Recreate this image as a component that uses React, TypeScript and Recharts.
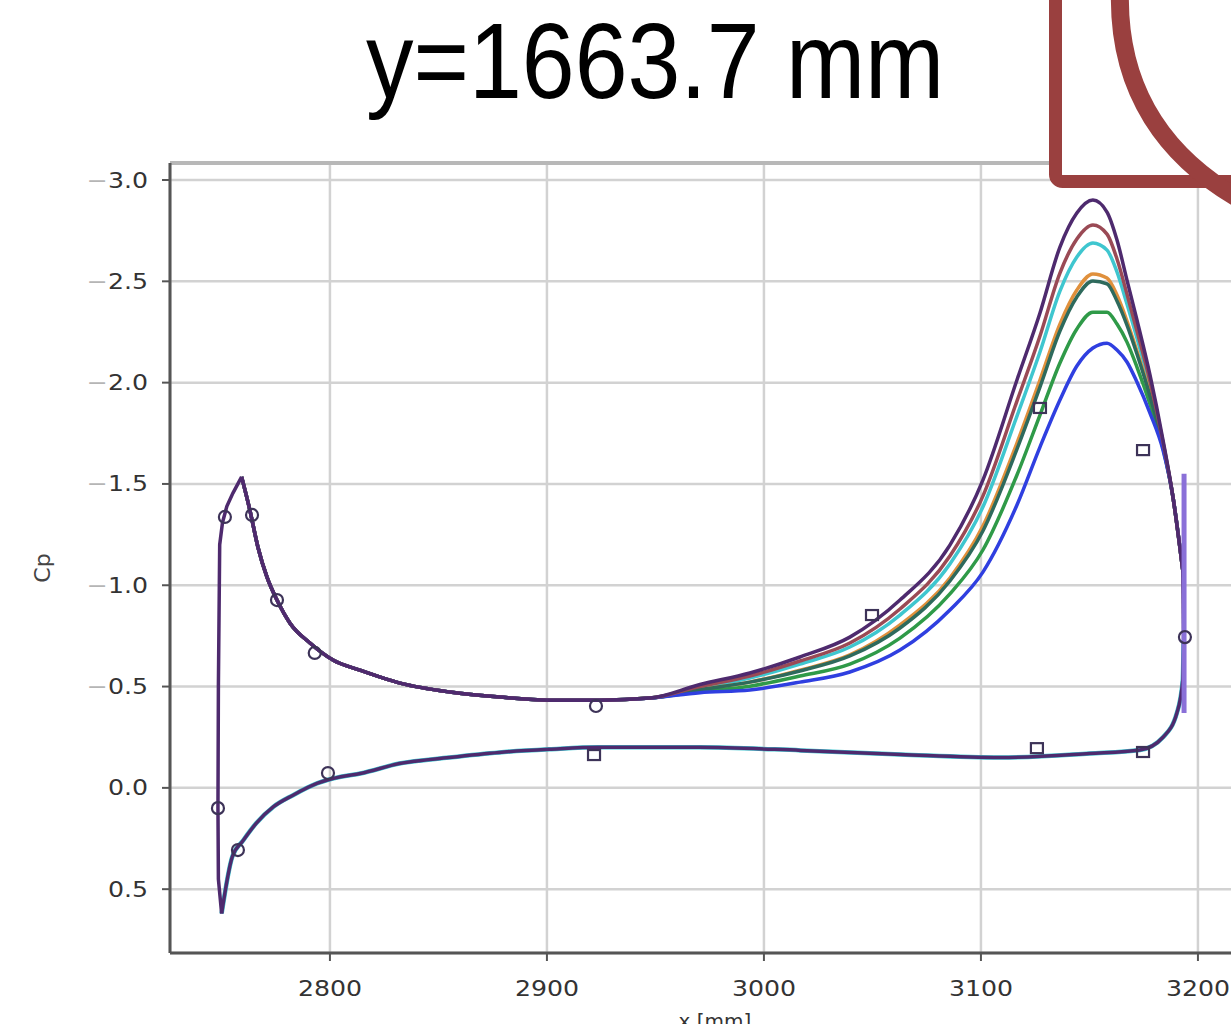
import React from 'react';
import {
  ComposedChart,
  Line,
  Scatter,
  XAxis,
  YAxis,
  CartesianGrid,
  ReferenceLine,
} from 'recharts';

// leading-edge nose: stagnation point up to the first suction peak (shared)
const noseX = [2750.1, 2748.6, 2748.4, 2748.6, 2749.2, 2750.5, 2752.5, 2755.3, 2759.3];
const noseCp = [0.62, 0.45, 0.1, -0.5, -1.2, -1.31, -1.39, -1.455, -1.535];

// suction side from the LE peak to mid chord (shared)
const upperFwdX = [
  2759.3, 2763.1, 2766.8, 2771.0, 2775.6, 2781.6, 2790.8, 2801.4, 2813.8, 2832.3,
  2855.3, 2878.3, 2901.4, 2924.4, 2947.5,
];
const upperFwdCp = [
  -1.535, -1.371, -1.189, -1.04, -0.927, -0.813, -0.715, -0.631, -0.581, -0.517,
  -0.473, -0.448, -0.433, -0.433, -0.443,
];

// aft suction side, where the runs split
const aftX = [
  2970.5, 2993.5, 3016.6, 3039.6, 3062.7, 3085.7, 3100.9, 3116.6, 3127.2, 3136.4,
  3144.2, 3151.6, 3158.1, 3162.7, 3167.3, 3171.9, 3177.9, 3183.9, 3188.5, 3193.0,
];
const purpleCp = [-0.51, -0.567, -0.646, -0.744, -0.927, -1.198, -1.519, -2.013, -2.344, -2.669, -2.837, -2.901, -2.842, -2.704, -2.506, -2.309, -2.038, -1.717, -1.435, -1.075];
const brownCp = [-0.5, -0.552, -0.626, -0.715, -0.883, -1.144, -1.44, -1.909, -2.23, -2.541, -2.709, -2.778, -2.733, -2.61, -2.437, -2.255, -2.008, -1.707, -1.435, -1.075];
const cyanCp = [-0.495, -0.542, -0.611, -0.695, -0.853, -1.105, -1.386, -1.835, -2.151, -2.452, -2.62, -2.689, -2.654, -2.546, -2.388, -2.22, -1.983, -1.702, -1.435, -1.075];
const orangeCp = [-0.485, -0.522, -0.581, -0.656, -0.804, -1.036, -1.292, -1.702, -2.013, -2.289, -2.457, -2.536, -2.516, -2.432, -2.304, -2.156, -1.944, -1.692, -1.435, -1.075];
const tealCp = [-0.485, -0.522, -0.577, -0.651, -0.789, -1.021, -1.268, -1.672, -1.978, -2.255, -2.423, -2.502, -2.487, -2.403, -2.284, -2.141, -1.934, -1.687, -1.435, -1.075];
const greenCp = [-0.475, -0.502, -0.552, -0.611, -0.739, -0.957, -1.174, -1.544, -1.84, -2.097, -2.265, -2.348, -2.348, -2.289, -2.2, -2.077, -1.894, -1.677, -1.435, -1.075];
const blueCp = [-0.47, -0.483, -0.522, -0.572, -0.68, -0.878, -1.065, -1.396, -1.682, -1.914, -2.082, -2.171, -2.195, -2.161, -2.102, -2.003, -1.85, -1.667, -1.435, -1.075];

// pressure side, LE -> TE (shared)
const lowerX = [
  2750.1, 2755.0, 2760.0, 2766.0, 2774.0, 2783.0, 2794.0, 2805.0, 2814.0, 2832.0, 2855.0,
  2878.0, 2901.0, 2924.0, 2970.0, 3017.0, 3063.0, 3109.0, 3150.0, 3173.3, 3183.9, 3190.3, 3193.0, 3193.4,
];
const lowerCp = [
  0.62, 0.34, 0.26, 0.175, 0.093, 0.036, -0.022, -0.055, -0.071, -0.12, -0.15,
  -0.175, -0.19, -0.2, -0.2, -0.185, -0.165, -0.15, -0.17, -0.187, -0.25, -0.37, -0.53, -0.73,
];

// trailing edge closing segment and bar
const teJoinX = [3193.0, 3193.4];
const teJoinCp = [-1.075, -0.73];
const teBarX = [3193.6, 3193.6];
const teBarCp = [-1.55, -0.37];

// experiment
const expCircleX = [2748.4, 2757.6, 2751.6, 2764.1, 2775.6, 2793.0, 2799.1, 2922.6, 3194.0];
const expCircleCp = [0.1, 0.307, -1.337, -1.347, -0.927, -0.666, -0.073, -0.404, -0.744];
const expSquareX = [2921.7, 3049.8, 3127.2, 3174.7, 3174.7, 3125.8];
const expSquareCp = [-0.162, -0.853, -1.875, -1.667, -0.177, -0.196];

const xTicks = [2800, 2900, 3000, 3100, 3200];
const yTicks = [-3.0, -2.5, -2.0, -1.5, -1.0, -0.5, 0.0, 0.5];

const toRows = (xs: number[], ys: number[]) => xs.map((x, i) => ({ x, cp: ys[i] }));
const upper = (aft: number[]) => [...toRows(upperFwdX, upperFwdCp), ...toRows(aftX, aft)];

const series = [
  { key: 'cyan', color: '#3fc6cf', cp: cyanCp },
  { key: 'orange', color: '#e0903c', cp: orangeCp },
  { key: 'green', color: '#2f9a48', cp: greenCp },
  { key: 'teal', color: '#2e6a5c', cp: tealCp },
  { key: 'blue', color: '#2f3fe0', cp: blueCp },
  { key: 'brown', color: '#9a4a55', cp: brownCp },
  { key: 'purple', color: '#4e2a6e', cp: purpleCp },
];

const FONT = '"DejaVu Sans", sans-serif';
const MARK = '#3d3358';
const LW = 3.5;

const XTick = ({ x, y, payload }: any) => (
  <g transform={`translate(${x},${y})`}>
    <text x={0} y={0} dy={33} textAnchor="middle" fontSize={21} fill="#333" fontFamily={FONT} transform="scale(1.2,1)">
      {payload.value}
    </text>
  </g>
);

const YTick = ({ x, y, payload }: any) => {
  const v = payload.value as number;
  return (
    <g transform={`translate(${x},${y})`}>
      <text x={0} y={0} dy={7.5} textAnchor="end" fontSize={21} fill="#333" fontFamily={FONT} transform="scale(1.2,1)">
        {v < 0 && <tspan fill="#b5b5b5">{'\u2212'}</tspan>}
        {Math.abs(v).toFixed(1)}
      </text>
    </g>
  );
};

const circleShape = (p: any) => (
  <circle cx={p.cx} cy={p.cy} r={6} fill="none" stroke={MARK} strokeWidth={2.2} />
);
const squareShape = (p: any) => (
  <rect x={p.cx - 6} y={p.cy - 5} width={12} height={10} fill="none" stroke={MARK} strokeWidth={2.2} />
);

const line = (key: string, data: any[], color: string, type: any, width = LW) => (
  <Line
    key={key}
    data={data}
    dataKey="cp"
    type={type}
    stroke={color}
    strokeWidth={width}
    dot={false}
    activeDot={false}
    isAnimationActive={false}
  />
);

export default function App() {
  return (
    <div style={{ position: 'absolute', left: 0, top: 0, width: 1231, height: 1024, overflow: 'hidden', background: '#fff' }}>
      <div style={{ position: 'absolute', left: 0, top: 0 }}>
        <ComposedChart width={1300} height={1040} margin={{ top: 163, right: 40, bottom: 27, left: 0 }}>
          <CartesianGrid stroke="#d2d2d2" strokeWidth={2.5} />
          <XAxis
            type="number"
            dataKey="x"
            domain={[2726.3, 3228.6]}
            ticks={xTicks}
            allowDataOverflow
            height={60}
            tick={<XTick />}
            tickSize={8}
            tickMargin={2}
            axisLine={{ stroke: '#555', strokeWidth: 3 }}
            tickLine={{ stroke: '#555', strokeWidth: 2 }}
          />
          <YAxis
            type="number"
            dataKey="cp"
            reversed
            domain={[-3.084, 0.815]}
            ticks={yTicks}
            allowDataOverflow
            width={170}
            tick={<YTick />}
            tickSize={8}
            tickMargin={14}
            axisLine={{ stroke: '#555', strokeWidth: 3 }}
            tickLine={{ stroke: '#555', strokeWidth: 2 }}
          />
          <ReferenceLine y={-3.084} stroke="#b8b8b8" strokeWidth={4} />
          {series.map((s) => line(`up-${s.key}`, upper(s.cp), s.color, 'monotone'))}
          {line('lower-cyan', toRows(lowerX, lowerCp), '#3fc6cf', 'monotone', LW + 1)}
          {line('lower', toRows(lowerX, lowerCp), '#4e2a6e', 'monotone')}
          {line('nose', toRows(noseX, noseCp), '#4e2a6e', 'linear')}
          {line('te-join', toRows(teJoinX, teJoinCp), '#4e2a6e', 'linear')}
          {line('te-bar', toRows(teBarX, teBarCp), '#8a70d8', 'linear', 5)}
          <Scatter data={toRows(expCircleX, expCircleCp)} dataKey="cp" shape={circleShape} isAnimationActive={false} />
          <Scatter data={toRows(expSquareX, expSquareCp)} dataKey="cp" shape={squareShape} isAnimationActive={false} />
        </ComposedChart>
      </div>
      <svg width={1231} height={1024} style={{ position: 'absolute', left: 0, top: 0, pointerEvents: 'none' }}>
        <text x={366} y={98} fontSize={95} fontFamily='"Liberation Sans", Arial, sans-serif' fill="#000"
          transform="translate(0,98) scale(1,1.13) translate(0,-98)">
          y=1663.7 mm
        </text>
        <rect x={1055.5} y={-60} width={300} height={241.5} rx={7} fill="#fff" stroke="#9a403f" strokeWidth={13} />
        <path d="M 1120 -10 C 1117 90, 1165 160, 1250 205" fill="none" stroke="#9a403f" strokeWidth={18} />
        <text x={0} y={0} fontSize={22} fill="#444" fontFamily={FONT} textAnchor="middle"
          transform="translate(50,568) rotate(-90)">
          Cp
        </text>
        <text x={715} y={1028} fontSize={20} fill="#333" fontFamily={FONT} textAnchor="middle">
          x [mm]
        </text>
      </svg>
    </div>
  );
}
